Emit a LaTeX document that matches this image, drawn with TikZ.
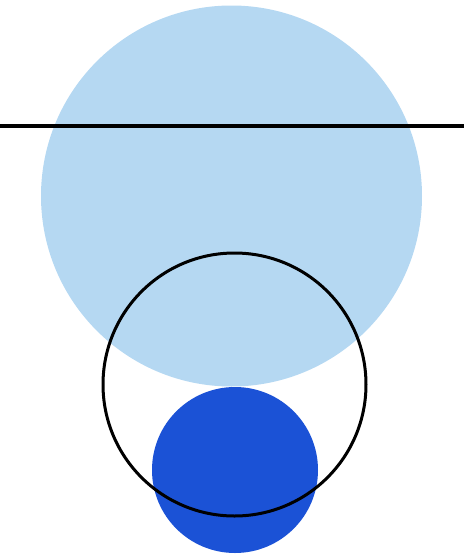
\documentclass[tikz,border=0pt]{standalone}
\usepackage{tikz}

\definecolor{paleblue}{HTML}{B5D8F2}
\definecolor{deepblue}{HTML}{1B52D6}

\tikzset{
  disc/.style={fill=#1, draw=none},
  ring/.style={draw=black, line width=3pt},
}

\begin{document}
\begin{tikzpicture}[x=1pt, y=-1pt]
            % Frame
            \useasboundingbox (0,0) rectangle (464,555);

            % Big pale disc
            \fill[disc=paleblue] (231.5,196) circle (190.5);
            % Horizontal line across it
            \draw[line width=3.2pt] (0,126) -- (464,126);

            % Small deep blue disc
            \fill[disc=deepblue] (235,470) circle (83);
            % Outline circle
            \draw[ring] (234.5,384.5) circle (131.5);
\end{tikzpicture}
\end{document}
